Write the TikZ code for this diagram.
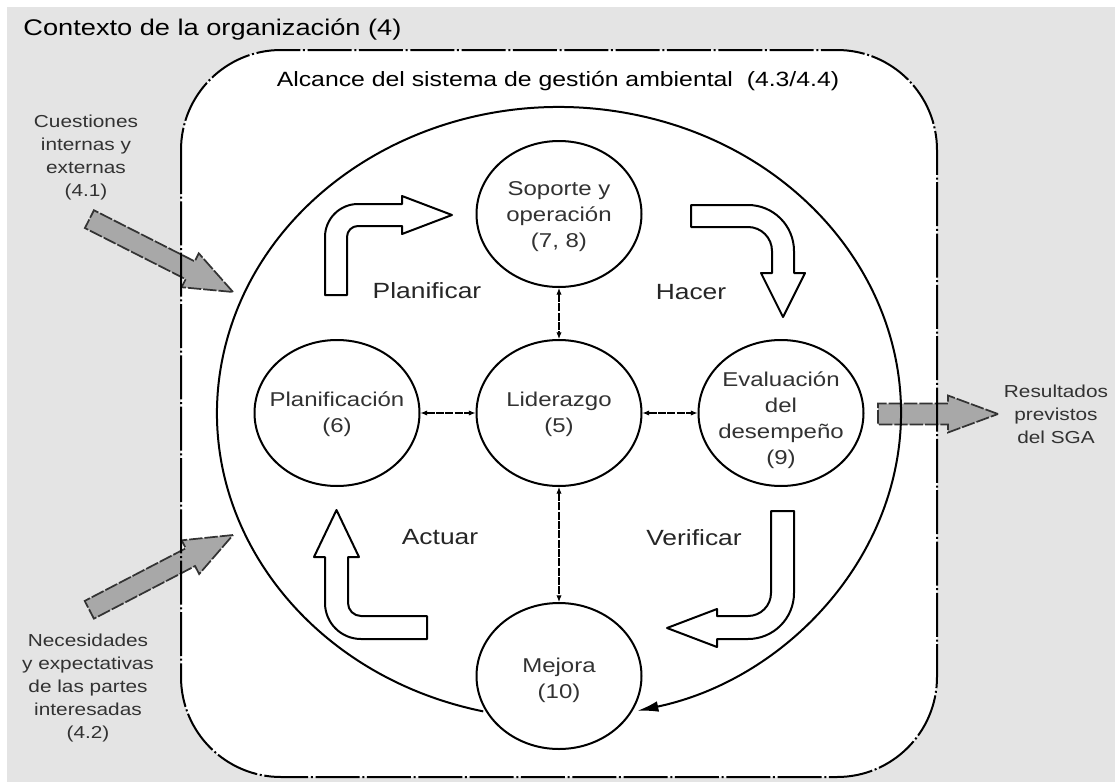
\documentclass[tikz,border=0pt]{standalone}
\usepackage{fontspec}
\setmainfont[FakeStretch=1.2]{Liberation Sans}
\usetikzlibrary{shapes.geometric,arrows.meta}

\definecolor{ctxgray}{RGB}{228,228,228}
\definecolor{arrowgray}{RGB}{168,168,168}
\definecolor{inkgray}{RGB}{50,50,50}

\tikzset{every picture/.style={line width=1.5pt}}

\begin{document}
\begin{tikzpicture}[x=0.75pt,y=0.75pt,yscale=-1,
  bubble/.style={ellipse,draw,line width=1.5pt,minimum width=123.75pt,minimum height=109.5pt,inner sep=0pt},
  ctext/.style={align=center,font=\fontsize{15}{19.5}\selectfont,text=inkgray},
  phase/.style={font=\fontsize{16.5}{20}\selectfont,text=black!85},
  side/.style={align=center,font=\fontsize{13}{17.25}\selectfont,text=inkgray},
  link/.style={line width=0.8pt,dash pattern=on 6pt off 1pt,{Latex[length=5pt,width=4pt]}-{Latex[length=5pt,width=4pt]}},
  hollow/.style={draw,fill=white,line width=1.5pt,line join=round},
  inarrow/.style={fill=arrowgray,draw=black!80,line width=1.3pt,dash pattern=on 10pt off 1.5pt},
  scopeline/.style={line width=1.5pt,dash pattern=on 33pt off 2pt on 1.5pt off 2pt},
  cycleline/.style={line width=1.5pt,-{Latex[length=16pt,width=8pt]}}]
\useasboundingbox (0,0) rectangle (1115,782);

%Shape: context background
\fill[ctxgray] (7,7) rectangle (1115,782);
\fill[white,rounded corners=75pt] (181,50) rectangle (937,777);

%Shape: input / output arrows
\draw[inarrow,shift={(233,292)},rotate=26.9] (0,0) -- (-48,-19) -- (-48,-10) -- (-161,-10) -- (-161,10) -- (-48,10) -- (-48,19) -- cycle;
\draw[inarrow,shift={(233,535)},rotate=-27.5] (0,0) -- (-48,-19) -- (-48,-10) -- (-162,-10) -- (-162,10) -- (-48,10) -- (-48,19) -- cycle;
\draw[inarrow,shift={(998,414)}] (0,0) -- (-50,-18.5) -- (-50,-10.5) -- (-120,-10.5) -- (-120,10.5) -- (-50,10.5) -- (-50,18.5) -- cycle;

%Shape: scope border
\draw[scopeline,rounded corners=75pt] (181,50) rectangle (937,777);

% Text Node
\node[anchor=base west,font=\fontsize{17}{20}\selectfont] (ctx) at (18,35) {Contexto de la organización (4)};
% Text Node
\node[anchor=base,font=\fontsize{15.5}{19}\selectfont] (scope) at (558,86) {Alcance del sistema de gestión ambiental\ \ (4.3/4.4)};

%Ellipses
\node[bubble] (sop) at (559,214) {};
\node[bubble] (plan) at (337,413) {};
\node[bubble] (lid) at (559,413) {};
\node[bubble] (eval) at (781,413) {};
\node[bubble] (mej) at (559,676) {};

%Big cycle
\draw[cycleline] (lid.center) ++(102.8:342 and 306) arc[start angle=102.8,end angle=436.8,x radius=342,y radius=306];

%Links
\draw[link] (plan) -- (lid);
\draw[link] (lid) -- (eval);
\draw[link] (sop) -- (lid);
\draw[link] (lid) -- (mej);

%Bent arrows
\draw[hollow] (325,295) -- (325,237) arc[start angle=180,end angle=270,radius=33] -- (402,204) -- (402,196) -- (452,215) -- (402,234) -- (402,226) -- (358,226) arc[start angle=270,end angle=180,radius=11] -- (347,295) -- cycle;
\draw[hollow] (691,205) -- (748,205) arc[start angle=270,end angle=360,radius=46] -- (794,273) -- (805,273) -- (783,317) -- (761,273) -- (772,273) -- (772,251) arc[start angle=0,end angle=-90,radius=24] -- (691,227) -- cycle;
\draw[hollow] (771,511) -- (794,511) -- (794,593) arc[start angle=0,end angle=90,radius=46] -- (717,639) -- (717,647) -- (667,628) -- (717,609) -- (717,616) -- (748,616) arc[start angle=90,end angle=0,radius=23] -- cycle;
\draw[hollow] (427,616) -- (427,639) -- (361,639) arc[start angle=90,end angle=180,radius=36] -- (325,557) -- (314,557) -- (336.5,510) -- (359,557) -- (348,557) -- (348,603) arc[start angle=180,end angle=90,radius=13] -- cycle;

% Text Node
\node[ctext] (sop-t) at (559,217) {Soporte y\\operación\\(7, 8)};
\node[ctext] (plan-t) at (337,414) {Planificación\\(6)};
\node[ctext] (lid-t) at (559,414) {Liderazgo\\(5)};
\node[ctext] (eval-t) at (781,420) {Evaluación\\del\\desempeño\\(9)};
\node[ctext] (mej-t) at (559,680) {Mejora\\(10)};

% Text Node
\node[phase] (p-plan) at (427,291) {Planificar};
\node[phase] (p-hac) at (691,292) {Hacer};
\node[phase] (p-act) at (440,537) {Actuar};
\node[phase] (p-ver) at (694,538) {Verificar};

% Text Node
\node[side] (cuest) at (86,158) {Cuestiones\\internas y\\externas\\(4.1)};
\node[side] (nec) at (88,688) {Necesidades\\y expectativas\\de las partes\\interesadas\\(4.2)};
\node[side] (res) at (1056,414) {Resultados\\previstos\\del SGA};

\end{tikzpicture}
\end{document}
